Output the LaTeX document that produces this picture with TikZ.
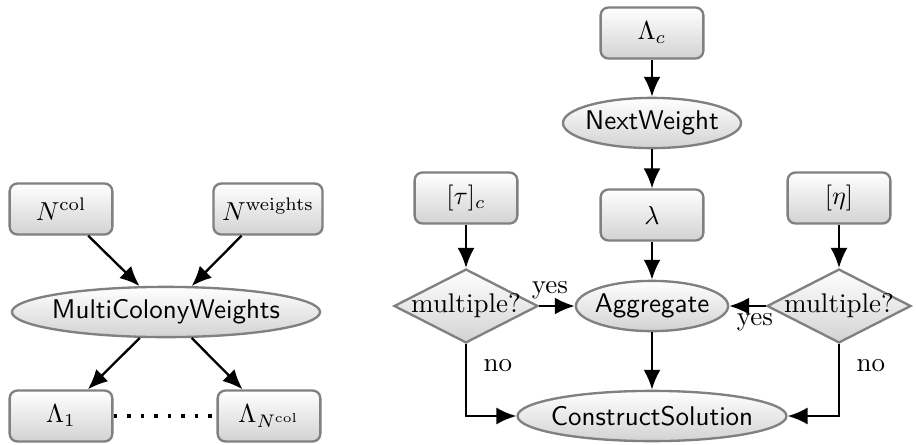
\documentclass[tikz,border=0pt]{standalone}
\usepackage{amsmath,amssymb}
\usepackage{tikz}
\usetikzlibrary{arrows.meta,positioning,shapes.geometric}
\definecolor{edgec}{RGB}{128,128,128}

\begin{document}
\begin{tikzpicture}[x=0.01354cm, y=-0.01354cm, >={Latex[length=2.7mm,width=2.3mm]},
  every node/.style={font=\fontsize{10.4}{12.5}\selectfont},
  box/.style={draw=edgec, line width=0.9pt, rounded corners=3pt, top color=white, bottom color=gray!35, minimum width=1.39cm, minimum height=0.69cm, inner xsep=3.3pt},
  proc/.style={ellipse, draw=edgec, line width=0.9pt, top color=white, bottom color=gray!35, font=\fontsize{10.4}{12.5}\sffamily, inner xsep=-6pt, inner ysep=0pt, minimum height=0.68cm},
  decide/.style={diamond, aspect=2, draw=edgec, line width=0.9pt, top color=white, bottom color=gray!35, inner sep=-2pt, minimum width=1.95cm, minimum height=1cm},
  flow/.style={->, line width=0.9pt}]
  \useasboundingbox (0,0) rectangle (916,444);
  \begin{scope}
    \node[box] (ncol) at (61,209) {$N^{\mathrm{col}}$};
    \node[box] (nw) at (268,209) {$N^{\mathrm{weights}}$};
    \node[proc, minimum width=4.17cm] (mcw) at (166,312) {MultiColonyWeights};
    \node[box] (l1) at (61,416) {$\Lambda_1$};
    \node[box] (ln) at (269,416) {$\Lambda_{N^{\mathrm{col}}}$};
    \draw[flow] (ncol) -- (mcw);
    \draw[flow] (nw) -- (mcw);
    \draw[flow] (mcw) -- (l1);
    \draw[flow] (mcw) -- (ln);
    \draw[line width=1.4pt, dash pattern=on 1.4pt off 3.8pt] (l1) -- (ln);
  \end{scope}
  \begin{scope}
    \node[box] (lc) at (652,33) {$\Lambda_c$};
    \node[proc, minimum width=2.41cm] (nxt) at (652,123) {NextWeight};
    \node[box] (lam) at (652,215) {$\lambda$};
    \node[box] (tau) at (466,198) {$[\tau]_c$};
    \node[box] (eta) at (839,198) {$[\eta]$};
    \node[decide] (dl) at (466,306) {multiple?};
    \node[proc, minimum width=2.06cm] (agg) at (652,306) {Aggregate};
    \node[decide] (dr) at (839,306) {multiple?};
    \node[proc, minimum width=3.64cm] (cs) at (652,416) {ConstructSolution};
    \draw[flow] (lc) -- (nxt);
    \draw[flow] (nxt) -- (lam);
    \draw[flow] (lam) -- (agg);
    \draw[flow] (tau) -- (dl);
    \draw[flow] (eta) -- (dr);
    \draw[flow] (agg) -- (cs);
    \draw[flow] (dl) -- node[pos=0.3, above, yshift=-1pt] {yes} (agg);
    \draw[flow] (dr) -- node[pos=0.3, below, yshift=1pt] {yes} (agg);
    \draw[flow] (dl) |- node[pos=0.15, right, xshift=3pt] {no} (cs);
    \draw[flow] (dr) |- node[pos=0.15, right, xshift=3pt] {no} (cs);
  \end{scope}
\end{tikzpicture}
\end{document}
